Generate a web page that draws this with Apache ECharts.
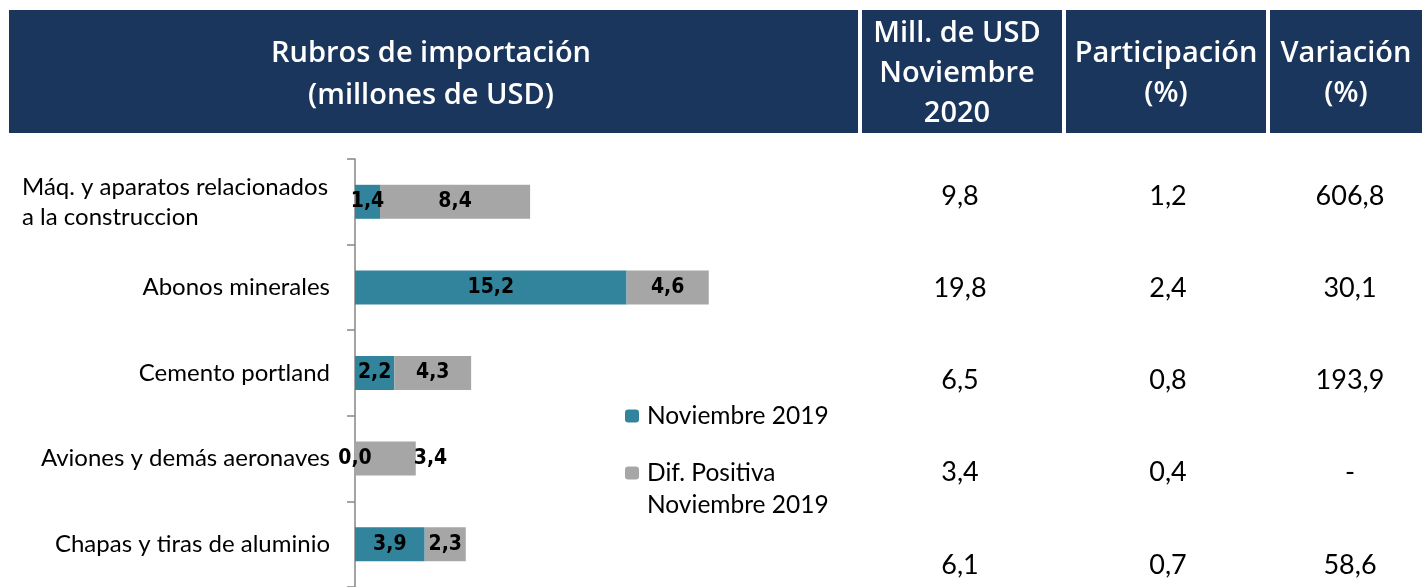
<!DOCTYPE html>
<html>
<head>
<meta charset="utf-8">
<script src="https://cdn.jsdelivr.net/npm/echarts@6/dist/echarts.min.js"></script>
<style>
  html, body { margin: 0; padding: 0; background: #fff; }
  #chart { width: 1422px; height: 587px; }
</style>
</head>
<body>
<div id="chart"></div>
<script>
// datos
const categorias = [
  'Máq. y aparatos relacionados\na la construccion',
  'Abonos minerales',
  'Cemento portland',
  'Aviones y demás aeronaves',
  'Chapas y tiras de aluminio'
]
const serieNombres = ['Noviembre 2019', 'Dif. Positiva Noviembre 2019']
const nov2019 = [1.4, 15.2, 2.2, 0.0, 3.9]
const difPositiva = [8.4, 4.6, 4.3, 3.4, 2.3]
const mill2020 = [9.8, 19.8, 6.5, 3.4, 6.1]
const participacion = [1.2, 2.4, 0.8, 0.4, 0.7]
const variacion = [606.8, 30.1, 193.9, null, 58.6]
const encabezados = [
  'Rubros de importación\n(millones de USD)',
  'Mill. de USD\nNoviembre\n2020',
  'Participación\n(%)',
  'Variación\n(%)'
]

const AZUL = '#1b365d'
const TEAL = '#31849b'
const GRIS = '#a6a6a6'
const FONT = 'Lato, "Open Sans", sans-serif'
const FONT_HEAD = '"Open Sans", Lato, sans-serif'
const FONT_NUM = '"DejaVu Sans Condensed", "Liberation Sans Narrow", sans-serif'

const fmt = v => v == null ? '-' : v.toFixed(1).replace('.', ',')

// layout of the table on the right
const colHeader = [
  {x: 9, w: 849, cx: 431},
  {x: 862, w: 200, cx: 957},
  {x: 1066, w: 200, cx: 1166},
  {x: 1270, w: 152, cx: 1346}
]
const colValX = [960, 1168, 1350]
const rowY0 = 196, rowStep = 92.2

// width of the first line for the two-line label
const ctx = document.createElement('canvas').getContext('2d')
ctx.font = '24px Lato'
const lineaW = Math.ceil(ctx.measureText(categorias[0].split('\n')[0]).width) + 1

const chartDom = document.getElementById('chart')
const myChart = echarts.init(chartDom, null, {renderer: 'canvas'})

const graphics = []
colHeader.forEach((c, i) => {
  graphics.push({
    type: 'rect', shape: {x: c.x, y: 10, width: c.w, height: 123},
    style: {fill: AZUL}, z: 1
  })
  graphics.push({
    type: 'text', x: c.cx, y: i == 0 ? 75 : 74, z: 2,
    style: {
      text: encabezados[i], fill: '#fff', font: '600 29px ' + FONT_HEAD,
      align: 'center', verticalAlign: 'middle', lineHeight: i == 0 ? 42 : 40
    }
  })
})
const tabla = [mill2020, participacion, variacion]
tabla.forEach((col, j) => {
  col.forEach((v, i) => {
    graphics.push({
      type: 'text', x: colValX[j], y: rowY0 + i * rowStep, z: 2,
      style: {
        text: fmt(v), fill: '#000', font: '27px ' + FONT,
        align: 'center', verticalAlign: 'middle'
      }
    })
  })
})

const labelBase = {
  show: true, position: 'inside', color: '#000', fontWeight: 'bold',
  fontSize: 21, fontFamily: FONT_NUM, formatter: p => fmt(p.value)
}
const legendText = {fontSize: 24.5, fontFamily: FONT, color: '#000', lineHeight: 32, padding: [0, 0, 0, 3]}

var option = {
  backgroundColor: '#fff',
  animation: false,
  grid: {left: 355, top: 159, width: 536, height: 430},
  legend: [
    {
      data: [serieNombres[0]], orient: 'vertical', left: 625, top: 400, padding: 0,
      itemWidth: 14, itemHeight: 13, itemGap: 0, textStyle: legendText
    },
    {
      data: [serieNombres[1]], orient: 'vertical', left: 625, top: 425, padding: 0,
      itemWidth: 14, itemHeight: 13, itemGap: 0,
      formatter: n => '\nDif. Positiva\nNoviembre 2019',
      textStyle: legendText
    }
  ],
  xAxis: {type: 'value', min: 0, max: 30, show: false},
  yAxis: {
    type: 'category', inverse: true, data: categorias,
    axisLine: {lineStyle: {color: '#868686', width: 1.5}},
    axisTick: {show: true, length: 8, lineStyle: {color: '#868686', width: 1.5}},
    axisLabel: {
      color: '#000', fontSize: 24, fontFamily: FONT, margin: 25,
      formatter: v => v.indexOf('\n') >= 0
        ? v.split('\n').map(s => '{l|' + s + '}').join('\n')
        : v,
      rich: {l: {width: lineaW, align: 'left', fontSize: 24, fontFamily: FONT, color: '#000', lineHeight: 30}}
    }
  },
  series: [
    {
      name: serieNombres[0], type: 'bar', stack: 'total', barWidth: 34,
      itemStyle: {color: TEAL}, label: labelBase, data: nov2019
    },
    {
      name: serieNombres[1], type: 'bar', stack: 'total', barWidth: 34,
      itemStyle: {color: GRIS}, label: labelBase,
      data: difPositiva.map((v, i) => nov2019[i] === 0
        ? {value: v, label: {position: 'right', distance: -2}}
        : v)
    }
  ],
  graphic: graphics
}
option && myChart.setOption(option)
</script>
</body>
</html>
